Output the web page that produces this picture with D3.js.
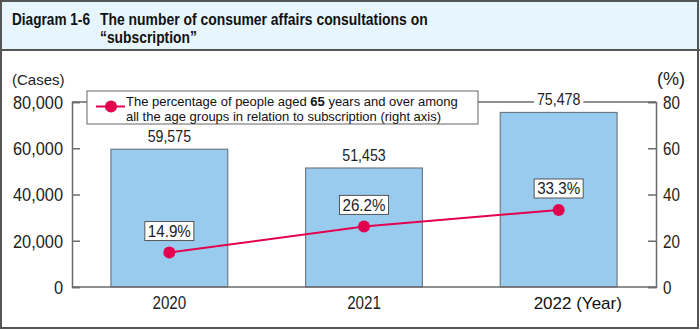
<!DOCTYPE html>
<html>
<head>
<meta charset="utf-8">
<script src="https://cdn.jsdelivr.net/npm/d3@7"></script>
<style>
  html, body { margin: 0; padding: 0; background: #fff; }
  svg { display: block; }
</style>
</head>
<body>
<svg id="chart" width="700" height="330"></svg>
<script>
const years = ["2020", "2021", "2022"];
const cases = [59575, 51453, 75478];
const percentages = [14.9, 26.2, 33.3];
const leftTicks = [0, 20000, 40000, 60000, 80000];
const rightTicks = [0, 20, 40, 60, 80];
const titleLabel = "Diagram 1-6";
const titleLines = ["The number of consumer affairs consultations on", "\u201Csubscription\u201D"];
const legendLines = ["The percentage of people aged ", "65", " years and over among", "all the age groups in relation to subscription (right axis)"];

const SANS = "'Liberation Sans', Arial, Helvetica, sans-serif";
const AXIS_COLOR = "#6b6b6b";
const LINE_COLOR = "#e2004f";
const TEXT_COLOR = "#222";

// condense text horizontally (the original uses a narrow typeface)
function squeeze(sel, f) {
  sel.each(function () {
    const w = this.getComputedTextLength();
    d3.select(this).attr("textLength", w * f).attr("lengthAdjust", "spacingAndGlyphs");
  });
  return sel;
}
function scaleTo(sel, x, y, targetW) {
  const w = sel.node().getComputedTextLength();
  sel.attr("x", 0).attr("y", 0)
    .attr("transform", `translate(${x},${y}) scale(${targetW / w},1)`);
  return sel;
}

const svg = d3.select("#chart");

// Frame and title band
svg.append("rect").attr("x", 0).attr("y", 0).attr("width", 700).attr("height", 50)
  .attr("fill", "#e7f5fd");
svg.append("line").attr("x1", 0).attr("x2", 700).attr("y1", 50).attr("y2", 50)
  .attr("stroke", "#555").attr("stroke-width", 2);
svg.append("rect").attr("x", 1).attr("y", 1).attr("width", 697).attr("height", 327)
  .attr("fill", "none").attr("stroke", "#555").attr("stroke-width", 2);

const title = svg.append("g").attr("font-family", SANS).attr("font-weight", "bold")
  .attr("font-size", 16.5).attr("fill", "#111");
scaleTo(title.append("text").text(titleLabel), 12, 24.5, 78);
scaleTo(title.append("text").text(titleLines[0]), 100, 24.5, 328);
scaleTo(title.append("text").text(titleLines[1]), 100, 43, 97);

// Scales
const margin = { left: 72, right: 656, top: 102, bottom: 287 };
const x = d3.scaleBand().domain(years).range([margin.left, margin.right])
  .paddingInner(0.4).paddingOuter(0.2);
const yL = d3.scaleLinear().domain([0, 80000]).range([margin.bottom, margin.top]);
const yR = d3.scaleLinear().domain([0, 80]).range([margin.bottom, margin.top]);

// Axes
const fmt = d3.format(",");
const leftAxis = svg.append("g").attr("transform", `translate(${margin.left},0)`)
  .call(d3.axisRight(yL).tickValues(leftTicks).tickSize(8).tickFormat(""));
const rightAxis = svg.append("g").attr("transform", `translate(${margin.right},0)`)
  .call(d3.axisLeft(yR).tickValues(rightTicks).tickSize(8).tickFormat(""));
[leftAxis, rightAxis].forEach(a => {
  a.select(".domain").attr("stroke", AXIS_COLOR).attr("stroke-width", 1.5);
  a.selectAll(".tick line").attr("stroke", AXIS_COLOR).attr("stroke-width", 1.5);
});

squeeze(svg.append("g").selectAll("text").data(leftTicks).join("text")
  .attr("x", 63).attr("y", d => yL(d)).attr("dy", "0.36em")
  .attr("text-anchor", "end").attr("font-family", SANS).attr("font-size", 19)
  .attr("fill", TEXT_COLOR).text(d => fmt(d)), 0.86);
squeeze(svg.append("g").selectAll("text").data(rightTicks).join("text")
  .attr("x", 663).attr("y", d => yR(d)).attr("dy", "0.36em")
  .attr("text-anchor", "start").attr("font-family", SANS).attr("font-size", 19)
  .attr("fill", TEXT_COLOR).text(d => d), 0.8);

// Top frame line
svg.append("line").attr("x1", margin.left).attr("x2", margin.right)
  .attr("y1", margin.top).attr("y2", margin.top)
  .attr("stroke", AXIS_COLOR).attr("stroke-width", 1.5);

// Unit labels
svg.append("text").attr("x", 12).attr("y", 85).attr("font-family", SANS)
  .attr("font-size", 15).attr("fill", TEXT_COLOR).text("(Cases)");
svg.append("text").attr("x", 657).attr("y", 85).attr("font-family", SANS)
  .attr("font-size", 18).attr("fill", TEXT_COLOR).text("(%)");

// Bars
svg.append("g").selectAll("rect").data(years).join("rect")
  .attr("x", d => x(d)).attr("width", x.bandwidth())
  .attr("y", (d, i) => yL(cases[i])).attr("height", (d, i) => yL(0) - yL(cases[i]))
  .attr("fill", "#98cbee").attr("stroke", "#6e7b86").attr("stroke-width", 1.2);

svg.append("line").attr("x1", margin.left).attr("x2", margin.right)
  .attr("y1", margin.bottom).attr("y2", margin.bottom)
  .attr("stroke", AXIS_COLOR).attr("stroke-width", 1.5);

// Bar value labels
const barLabels = svg.append("g");
years.forEach((d, i) => {
  const cx = x(d) + x.bandwidth() / 2;
  const by = yL(cases[i]) - 7;
  const t = barLabels.append("text").attr("x", cx).attr("y", by)
    .attr("text-anchor", "middle").attr("font-family", SANS).attr("font-size", 16.5)
    .attr("fill", TEXT_COLOR).text(fmt(cases[i]));
  squeeze(t, 0.86);
  const bb = t.node().getBBox();
  barLabels.insert("rect", "text").attr("x", bb.x - 3).attr("y", bb.y + 2)
    .attr("width", bb.width + 6).attr("height", bb.height - 4).attr("fill", "#fff");
});

// X labels
years.forEach((d, i) => {
  const cx = x(d) + x.bandwidth() / 2;
  if (i < years.length - 1) {
    squeeze(svg.append("text").attr("x", cx).attr("y", 309).attr("text-anchor", "middle")
      .attr("font-family", SANS).attr("font-size", 18.5).attr("fill", TEXT_COLOR).text(d), 0.82);
  } else {
    svg.append("text").attr("x", cx - 25).attr("y", 309).attr("text-anchor", "start")
      .attr("font-family", SANS).attr("font-size", 17).attr("fill", "#111").text(d + " (Year)");
  }
});

// Line series
const pts = years.map((d, i) => [x(d) + x.bandwidth() / 2, yR(percentages[i])]);
svg.append("path").attr("d", d3.line()(pts)).attr("fill", "none")
  .attr("stroke", LINE_COLOR).attr("stroke-width", 2);
svg.append("g").selectAll("circle").data(pts).join("circle")
  .attr("cx", d => d[0]).attr("cy", d => d[1]).attr("r", 6).attr("fill", LINE_COLOR);

// Percentage label boxes
const pctG = svg.append("g");
pts.forEach((p, i) => {
  const w = 49, h = 19;
  pctG.append("rect").attr("x", p[0] - w / 2).attr("y", p[1] - 12 - h)
    .attr("width", w).attr("height", h).attr("fill", "#fff")
    .attr("stroke", "#555").attr("stroke-width", 1);
  squeeze(pctG.append("text").attr("x", p[0]).attr("y", p[1] - 12 - h / 2).attr("dy", "0.36em")
    .attr("text-anchor", "middle").attr("font-family", SANS).attr("font-size", 16.5)
    .attr("fill", TEXT_COLOR).text(percentages[i].toFixed(1) + "%"), 0.92);
});

// Legend
const lg = svg.append("g");
lg.append("rect").attr("x", 87).attr("y", 91).attr("width", 391).attr("height", 33)
  .attr("fill", "#fff").attr("stroke", "#666").attr("stroke-width", 1);
lg.append("line").attr("x1", 96).attr("x2", 125).attr("y1", 106.5).attr("y2", 106.5)
  .attr("stroke", LINE_COLOR).attr("stroke-width", 2);
lg.append("circle").attr("cx", 111).attr("cy", 106.5).attr("r", 6).attr("fill", LINE_COLOR);
const lt1 = lg.append("text").attr("x", 126).attr("y", 106).attr("font-family", SANS)
  .attr("font-size", 13).attr("fill", "#111");
lt1.append("tspan").text(legendLines[0]);
lt1.append("tspan").attr("font-weight", "bold").text(legendLines[1]);
lt1.append("tspan").text(legendLines[2]);
lg.append("text").attr("x", 126).attr("y", 120.5).attr("font-family", SANS)
  .attr("font-size", 13).attr("fill", "#111").text(legendLines[3]);
</script>
</body>
</html>
